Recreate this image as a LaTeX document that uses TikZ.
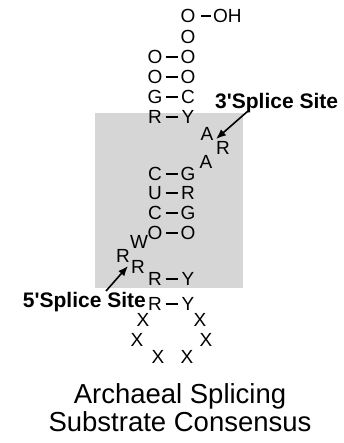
\documentclass[tikz,border=0pt]{standalone}
\usepackage{fontspec}
\setmainfont{Liberation Sans}
\usetikzlibrary{arrows.meta}
\begin{document}
\begin{tikzpicture}[x=1pt,y=-1pt,
  base/.style={inner sep=0pt,outer sep=0pt,text height=13.6pt,text depth=0pt,
    font=\fontsize{19}{19}\selectfont},
  bp/.style={line width=1.8pt,shorten >=10.5pt,shorten <=10.5pt},
  sitelabel/.style={inner sep=0pt,font=\bfseries\fontsize{21}{21}\selectfont},
  pointer/.style={line width=1.6pt,-{Latex[length=10pt,width=8pt]}}
]
\useasboundingbox (0,0) rectangle (344,443);
\fill[white] (0,0) rectangle (344,443);
% shaded core region
\fill[black!16] (95,113) rectangle (243,288);

% acceptor stem and 3' tail
\node[base] (t1) at (188,16) {O};
\node[base,anchor=west] (oh) at (213,16) {OH};
\node[base] (t2) at (188,37) {O};
\node[base] (a3) at (155,57) {O};  \node[base] (b3) at (188,57) {O};
\node[base] (a4) at (155,77) {O};  \node[base] (b4) at (188,77) {O};
\node[base] (a5) at (155,97) {G};  \node[base] (b5) at (188,97) {C};
\node[base] (a6) at (155,117) {R}; \node[base] (b6) at (188,117) {Y};

% bulge
\node[base] (u1) at (207,134) {A};
\node[base] (u2) at (223,148) {R};
\node[base] (u3) at (206,162) {A};

% central helix
\node[base] (a7) at (155,174) {C};  \node[base] (b7) at (188,174) {G};
\node[base] (a8) at (155,193) {U};  \node[base] (b8) at (188,193) {R};
\node[base] (a9) at (155,213) {C};  \node[base] (b9) at (188,213) {G};
\node[base] (a10) at (155,233) {O}; \node[base] (b10) at (188,233) {O};

% 5' bulge
\node[base] (w1) at (139,242) {W};
\node[base] (r1) at (123,256) {R};
\node[base] (r2) at (138,267) {R};
\node[base] (a11) at (155,279) {R}; \node[base] (b11) at (188,279) {Y};
\node[base] (a12) at (155,304) {R}; \node[base] (b12) at (188,304) {Y};

% loop
\node[base] (x1) at (143,320) {X};
\node[base] (x2) at (200,320) {X};
\node[base] (x3) at (137,340) {X};
\node[base] (x4) at (206,340) {X};
\node[base] (x5) at (158,357) {X};
\node[base] (x6) at (187,357) {X};

% base pairs
\draw[line width=1.8pt,shorten <=13pt,shorten >=2pt] (t1.center) -- (oh.west);
\foreach \i in {3,...,12} \draw[bp] (a\i.center) -- (b\i.center);

% splice site labels
\node[sitelabel,anchor=west] (s3) at (215,103) {3\textquotesingle Splice Site};
\node[sitelabel,anchor=east] (s5) at (146,302) {5\textquotesingle Splice Site};
\coordinate (s3tail) at (248,111);
\coordinate (s3tip) at (216,139);
\coordinate (s5tail) at (106,291);
\coordinate (s5tip) at (128,266);
\draw[pointer] (s3tail) -- (s3tip);
\draw[pointer] (s5tail) -- (s5tip);

% caption
\node[inner sep=0pt,align=center,font=\fontsize{27.5}{28}\selectfont] (cap) at (180,408)
  {Archaeal Splicing\\Substrate Consensus};
\end{tikzpicture}
\end{document}
